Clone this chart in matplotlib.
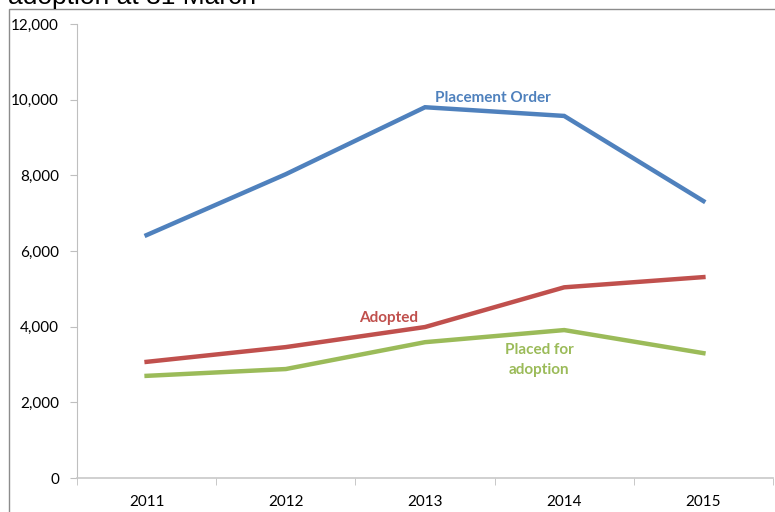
import numpy as np
import matplotlib.pyplot as plt
from matplotlib.patches import Rectangle
from matplotlib.ticker import FuncFormatter

years = ['2011', '2012', '2013', '2014', '2015']
placement_order = [6420, 8030, 9800, 9570, 7320]
adopted = [3070, 3460, 3990, 5040, 5310]
placed_for_adoption = [2700, 2880, 3590, 3910, 3300]

blue = '#4F81BD'
red = '#C0504D'
green = '#9BBB59'

plt.rcParams['font.family'] = ['Lato', 'DejaVu Sans']

fig = plt.figure(figsize=(7.75, 5.12), dpi=100)
ax = fig.add_axes([77/775, 34/512, 696/775, 454/512])

x = np.arange(len(years))
ax.plot(x, placement_order, color=blue, lw=3.2, solid_joinstyle='miter')
ax.plot(x, adopted, color=red, lw=3.2, solid_joinstyle='miter')
ax.plot(x, placed_for_adoption, color=green, lw=3.2, solid_joinstyle='miter')

ax.text(2.49, 10050, 'Placement Order', color=blue, fontsize=11,
        fontweight='bold', ha='center', va='center')
ax.text(1.74, 4230, 'Adopted', color=red, fontsize=11,
        fontweight='bold', ha='center', va='center')
ax.text(2.82, 3120, 'Placed for\nadoption', color=green, fontsize=11,
        fontweight='bold', ha='center', va='center', linespacing=1.5)

ax.set_xlim(-0.5, 4.5)
ax.set_ylim(0, 12000)
ax.set_yticks(np.arange(0, 12001, 2000))
ax.yaxis.set_major_formatter(FuncFormatter(lambda v, p: f'{int(v):,}'))
ax.set_xticks(x)
ax.set_xticklabels(years)
ax.set_xticks(np.arange(-0.5, 4.6, 1), minor=True)
ax.tick_params(axis='x', which='major', length=0, pad=12, labelsize=11)
ax.tick_params(axis='x', which='minor', length=5, color='#BFBFBF')
ax.tick_params(axis='y', length=5, color='#BFBFBF', pad=8, labelsize=11)

for s in ['top', 'right']:
    ax.spines[s].set_visible(False)
ax.spines['left'].set_color('#BFBFBF')
ax.spines['bottom'].set_color('#C8C8C8')
ax.spines['bottom'].set_linewidth(1.2)

fig.patches.append(Rectangle((9/775, -0.1), 1.0, 1 - 9/512 + 0.1,
                             transform=fig.transFigure, fill=False,
                             edgecolor='#8C8C8C', lw=1))

fig.text(8/775, 1 - 4/512, 'adoption at 31 March', fontsize=19,
         family=['Liberation Sans', 'DejaVu Sans'], va='baseline', ha='left')

fig.savefig('out.png', dpi=100)
